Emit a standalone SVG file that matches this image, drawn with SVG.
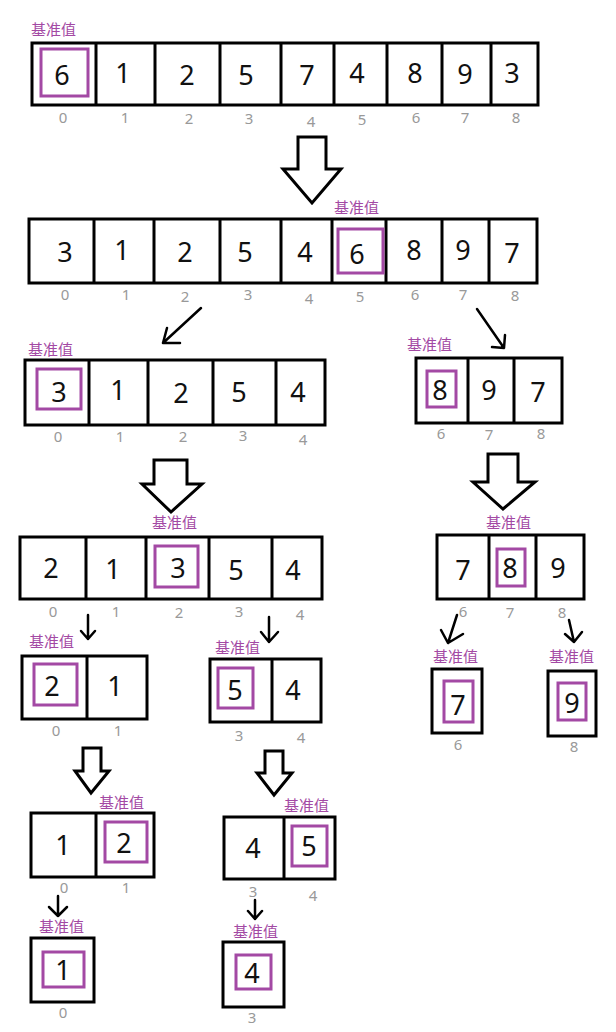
<svg xmlns="http://www.w3.org/2000/svg" width="616" height="1032" viewBox="0 0 616 1032">
<style>
.c{fill:#fff;stroke:#000;stroke-width:3}
.d{stroke:#000;stroke-width:3}
.p{fill:none;stroke:#A349A4;stroke-width:3}
.n{font-family:"Noto Sans","Open Sans",sans-serif;font-size:27px;fill:#111;text-anchor:middle}
.i{font-family:"Noto Sans","Open Sans",sans-serif;font-size:15px;fill:#999;text-anchor:middle}
.l{font-family:"Noto Sans CJK SC","Noto Sans",sans-serif;font-size:15px;fill:#A349A4}
.b{fill:#fff;stroke:#000;stroke-width:3;stroke-linejoin:miter}
.s{fill:none;stroke:#000;stroke-width:2.5;stroke-linecap:round;stroke-linejoin:round}
</style>
<rect width="616" height="1032" fill="#fff"/>

<g id="connectors">
<polygon class="b" points="298,137 326,137 326,169 341,169 312,203 283,169 298,169"/>
<polygon class="b" points="154,460 187,460 187,484 202,484 171,512 142,484 154,484"/>
<polygon class="b" points="488,454 518,454 518,482 535,482 503,509 473,482 488,482"/>
<polygon class="b" points="83,748 101,748 101,771 109,771 91,793 75,771 83,771"/>
<polygon class="b" points="265,751 283,751 283,773 292,773 274,795 257,773 265,773"/>
<path class="s" d="M201,308 L163,343 M167,328 L163,343 L180,343"/>
<path class="s" d="M477,309 L504,348 M505,335 L504,348 L492,347"/>
<path class="s" d="M88,615 L88,639 M81,631 L88,639 L95,631"/>
<path class="s" d="M269,617 L269,642 M261,632 L269,642 L278,632"/>
<path class="s" d="M457,615 L448,643 M441,630 L448,643 L463,634"/>
<path class="s" d="M569,620 L574,642 M565,634 L574,642 L582,632"/>
<path class="s" d="M58,896 L58,916 M49,907 L58,916 L67,907"/>
<path class="s" d="M255,900 L255,919 M248,911 L255,919 L262,911"/>
</g>

<g id="a1">
<rect class="c" x="32" y="43" width="506" height="62"/>
<path class="d" d="M96,43V105M155,43V105M220,43V105M281,43V105M334,43V105M387,43V105M442,43V105M491,43V105"/>
<rect class="p" x="41" y="49" width="47" height="47"/>
<text class="l" x="31" y="35">基准值</text>
<text class="n" x="62" y="85">6</text><text class="n" x="123" y="83">1</text><text class="n" x="187" y="85">2</text><text class="n" x="246" y="85">5</text><text class="n" x="307" y="85">7</text><text class="n" x="357" y="83">4</text><text class="n" x="415" y="83">8</text><text class="n" x="465" y="84">9</text><text class="n" x="512" y="83">3</text>
<text class="i" x="63" y="123">0</text><text class="i" x="125" y="123">1</text><text class="i" x="189" y="124">2</text><text class="i" x="249" y="124">3</text><text class="i" x="311" y="127">4</text><text class="i" x="362" y="125">5</text><text class="i" x="416" y="123">6</text><text class="i" x="465" y="123">7</text><text class="i" x="516" y="123">8</text>
</g>

<g id="a2">
<rect class="c" x="29" y="219" width="508" height="64"/>
<path class="d" d="M94,219V283M154,219V283M220,219V283M281,219V283M332,219V283M386,219V283M442,219V283M489,219V283"/>
<rect class="p" x="338" y="229" width="45" height="44"/>
<text class="l" x="334" y="213">基准值</text>
<text class="n" x="65" y="262">3</text><text class="n" x="122" y="260">1</text><text class="n" x="185" y="262">2</text><text class="n" x="245" y="262">5</text><text class="n" x="305" y="262">4</text><text class="n" x="357" y="264">6</text><text class="n" x="414" y="260">8</text><text class="n" x="463" y="260">9</text><text class="n" x="512" y="263">7</text>
<text class="i" x="65" y="300">0</text><text class="i" x="126" y="300">1</text><text class="i" x="185" y="302">2</text><text class="i" x="248" y="300">3</text><text class="i" x="309" y="304">4</text><text class="i" x="360" y="302">5</text><text class="i" x="415" y="300">6</text><text class="i" x="463" y="300">7</text><text class="i" x="515" y="301">8</text>
</g>

<g id="a3l">
<rect class="c" x="25" y="360" width="300" height="65"/>
<path class="d" d="M89,360V425M148,360V425M213,360V425M276,360V425"/>
<rect class="p" x="37" y="369" width="44" height="40"/>
<text class="l" x="28" y="355">基准值</text>
<text class="n" x="59" y="402">3</text><text class="n" x="118" y="400">1</text><text class="n" x="181" y="403">2</text><text class="n" x="239" y="402">5</text><text class="n" x="298" y="402">4</text>
<text class="i" x="58" y="442">0</text><text class="i" x="120" y="442">1</text><text class="i" x="183" y="442">2</text><text class="i" x="243" y="441">3</text><text class="i" x="303" y="445">4</text>
</g>

<g id="a3r">
<rect class="c" x="416" y="358" width="146" height="65"/>
<path class="d" d="M468,358V423M514,358V423"/>
<rect class="p" x="427" y="371" width="29" height="36"/>
<text class="l" x="407" y="350">基准值</text>
<text class="n" x="440" y="400">8</text><text class="n" x="489" y="400">9</text><text class="n" x="538" y="402">7</text>
<text class="i" x="441" y="439">6</text><text class="i" x="489" y="440">7</text><text class="i" x="541" y="439">8</text>
</g>

<g id="a4l">
<rect class="c" x="20" y="537" width="302" height="62"/>
<path class="d" d="M86,537V599M146,537V599M209,537V599M272,537V599"/>
<rect class="p" x="155" y="546" width="43" height="41"/>
<text class="l" x="152" y="528">基准值</text>
<text class="n" x="51" y="578">2</text><text class="n" x="113" y="579">1</text><text class="n" x="178" y="578">3</text><text class="n" x="236" y="580">5</text><text class="n" x="293" y="580">4</text>
<text class="i" x="53" y="617">0</text><text class="i" x="116" y="617">1</text><text class="i" x="179" y="618">2</text><text class="i" x="239" y="617">3</text><text class="i" x="300" y="620">4</text>
</g>

<g id="a4r">
<rect class="c" x="437" y="535" width="147" height="64"/>
<path class="d" d="M489,535V599M536,535V599"/>
<rect class="p" x="497" y="549" width="28" height="37"/>
<text class="l" x="486" y="528">基准值</text>
<text class="n" x="463" y="580">7</text><text class="n" x="510" y="578">8</text><text class="n" x="558" y="578">9</text>
<text class="i" x="463" y="617">6</text><text class="i" x="510" y="618">7</text><text class="i" x="562" y="618">8</text>
</g>

<g id="a5a">
<rect class="c" x="22" y="656" width="125" height="63"/>
<path class="d" d="M87,656V719"/>
<rect class="p" x="34" y="664" width="43" height="41"/>
<text class="l" x="29" y="647">基准值</text>
<text class="n" x="52" y="696">2</text><text class="n" x="115" y="696">1</text>
<text class="i" x="56" y="736">0</text><text class="i" x="118" y="736">1</text>
</g>

<g id="a5b">
<rect class="c" x="210" y="659" width="111" height="63"/>
<path class="d" d="M272,659V722"/>
<rect class="p" x="218" y="668" width="35" height="40"/>
<text class="l" x="215" y="653">基准值</text>
<text class="n" x="235" y="700">5</text><text class="n" x="293" y="700">4</text>
<text class="i" x="239" y="741">3</text><text class="i" x="301" y="743">4</text>
</g>

<g id="a6a">
<rect class="c" x="432" y="669" width="50" height="64"/>
<rect class="p" x="444" y="681" width="29" height="41"/>
<text class="l" x="433" y="662">基准值</text>
<text class="n" x="458" y="715">7</text>
<text class="i" x="458" y="750">6</text>
</g>

<g id="a6b">
<rect class="c" x="548" y="671" width="48" height="65"/>
<rect class="p" x="558" y="683" width="28" height="37"/>
<text class="l" x="549" y="662">基准值</text>
<text class="n" x="572" y="713">9</text>
<text class="i" x="574" y="752">8</text>
</g>

<g id="a7a">
<rect class="c" x="31" y="813" width="123" height="64"/>
<path class="d" d="M96,813V877"/>
<rect class="p" x="105" y="822" width="42" height="40"/>
<text class="l" x="99" y="808">基准值</text>
<text class="n" x="63" y="855">1</text><text class="n" x="124" y="853">2</text>
<text class="i" x="64" y="893">0</text><text class="i" x="126" y="893">1</text>
</g>

<g id="a7b">
<rect class="c" x="224" y="817" width="111" height="62"/>
<path class="d" d="M284,817V879"/>
<rect class="p" x="292" y="826" width="35" height="40"/>
<text class="l" x="284" y="811">基准值</text>
<text class="n" x="253" y="858">4</text><text class="n" x="309" y="856">5</text>
<text class="i" x="253" y="897">3</text><text class="i" x="313" y="901">4</text>
</g>

<g id="a8a">
<rect class="c" x="31" y="938" width="63" height="64"/>
<rect class="p" x="43" y="952" width="41" height="35"/>
<text class="l" x="39" y="932">基准值</text>
<text class="n" x="63" y="980">1</text>
<text class="i" x="63" y="1018">0</text>
</g>

<g id="a8b">
<rect class="c" x="223" y="942" width="61" height="65"/>
<rect class="p" x="236" y="955" width="35" height="34"/>
<text class="l" x="233" y="937">基准值</text>
<text class="n" x="252" y="983">4</text>
<text class="i" x="252" y="1023">3</text>
</g>
</svg>
